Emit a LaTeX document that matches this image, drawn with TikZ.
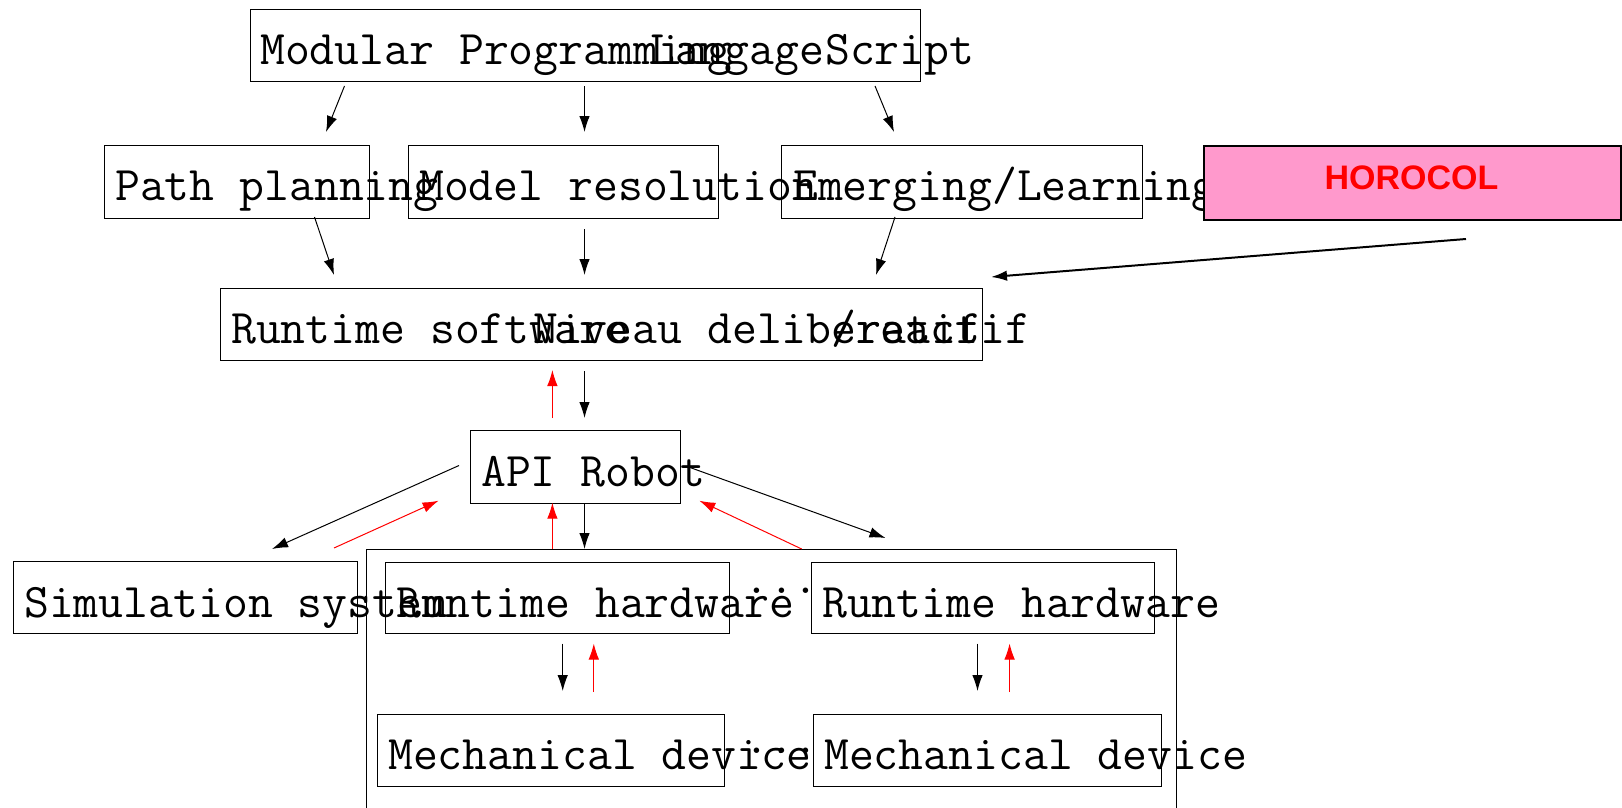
\documentclass[tikz,border=0pt]{standalone}
\usepackage{fontspec}
\newfontfamily\tagfont{Liberation Sans}
\usetikzlibrary{arrows.meta}

\definecolor{tagpink}{RGB}{255,153,204}

\tikzset{
  box/.style={draw, line width=1pt, inner sep=0pt, anchor=north west},
  lbl/.style={anchor=base west, inner sep=0pt, font=\ttfamily\fontsize{48.3}{58}\selectfont},
  fwd/.style={line width=1pt, -{Latex[length=16pt,width=10.5pt]}},
  back/.style={fwd, red},
}

\begin{document}
\begin{tikzpicture}[x=1pt,y=-1pt]
\useasboundingbox (0,0) rectangle (1622,808);

% boxes
\node[box, minimum width=670pt, minimum height=72pt] (top) at (250,9) {};
\node[box, minimum width=265pt, minimum height=73pt] (path) at (104,145) {};
\node[box, minimum width=310pt, minimum height=73pt] (model) at (408,145) {};
\node[box, minimum width=361pt, minimum height=73pt] (emerg) at (781,145) {};
\node[box, minimum width=762pt, minimum height=72pt] (runsw) at (220,288) {};
\node[box, minimum width=210pt, minimum height=73pt] (api) at (470,430) {};
\node[box, minimum width=810pt, minimum height=290pt] (group) at (366,549) {};
\node[box, minimum width=344pt, minimum height=72pt] (sim) at (12.5,561) {};
\node[box, minimum width=344pt, minimum height=71pt] (rhl) at (385,562) {};
\node[box, minimum width=343pt, minimum height=71pt] (rhr) at (811,562) {};
\node[box, minimum width=347pt, minimum height=72pt] (mdl) at (376.5,714) {};
\node[box, minimum width=348pt, minimum height=72pt] (mdr) at (813,714) {};

% labels
\node[lbl] (topA) at (260,64) {Modular Programming};
\node[lbl] (topB) at (650,64) {Langage};
\node[lbl] (topC) at (825,64) {Script};
\node[lbl] (pathT) at (115,200) {Path planning};
\node[lbl] (modelT) at (419,200) {Model resolution};
\node[lbl] (emergT) at (793,200) {Emerging/Learning};

% highlighted box
\node[draw, line width=2pt, fill=tagpink, anchor=north west, inner sep=0pt,
      minimum width=417pt, minimum height=74pt] (horo) at (1203,145) {};
\node[anchor=base, inner sep=0pt, text=red,
      font=\tagfont\bfseries\fontsize{34}{40}\selectfont] (horoT) at (1411.5,189) {HOROCOL};

\node[lbl] (runswA) at (231,343) {Runtime software};
\node[lbl] (runswB) at (533,343) {Niveau deliberatif};
\node[lbl] (runswC) at (831,343) {/reactif};
\node[lbl] (apiT) at (481,486) {API Robot};
\node[lbl] (simT) at (24,617) {Simulation system};
\node[lbl] (rhlT) at (396,617) {Runtime hardware};
\node[lbl] (rhrT) at (822,617) {Runtime hardware};
\node[lbl] (mdlT) at (388,769) {Mechanical device};
\node[lbl] (mdrT) at (824,769) {Mechanical device};
\node[lbl] (dotsA) at (744,605) {···};
\node[lbl] (dotsB) at (744,765) {···};

% connector end points
\coordinate (a1) at (344.5,86);  \coordinate (a2) at (326,132);
\coordinate (b1) at (584.5,86);  \coordinate (b2) at (584.5,132);
\coordinate (c1) at (875,86);    \coordinate (c2) at (894,132);
\coordinate (d1) at (314.5,217); \coordinate (d2) at (334,275);
\coordinate (e1) at (584.5,229); \coordinate (e2) at (584.5,275);
\coordinate (f1) at (895,217);   \coordinate (f2) at (876,275);
\coordinate (g1) at (1466,239);  \coordinate (g2) at (991,277);
\coordinate (h1) at (584.5,371); \coordinate (h2) at (584.5,418);
\coordinate (i1) at (459,465.5); \coordinate (i2) at (272,549);
\coordinate (j1) at (584.5,503); \coordinate (j2) at (584.5,549);
\coordinate (k1) at (690,467.5); \coordinate (k2) at (885.5,538);
\coordinate (l1) at (562.7,643.5); \coordinate (l2) at (562.7,691);
\coordinate (m1) at (977.5,643.5); \coordinate (m2) at (977.5,691);
\coordinate (n1) at (552.4,418); \coordinate (n2) at (552.4,370);
\coordinate (o1) at (334,548);   \coordinate (o2) at (438.6,500.7);
\coordinate (p1) at (552.4,549); \coordinate (p2) at (552.4,502.7);
\coordinate (q1) at (801.7,549); \coordinate (q2) at (699.3,500.7);
\coordinate (r1) at (593.8,692); \coordinate (r2) at (593.8,643.5);
\coordinate (s1) at (1009.6,692); \coordinate (s2) at (1009.6,643.5);

% downward flow
\draw[fwd] (a1) -- (a2);
\draw[fwd] (b1) -- (b2);
\draw[fwd] (c1) -- (c2);
\draw[fwd] (d1) -- (d2);
\draw[fwd] (e1) -- (e2);
\draw[fwd] (f1) -- (f2);
\draw[fwd, line width=2pt] (g1) -- (g2);
\draw[fwd] (h1) -- (h2);
\draw[fwd] (i1) -- (i2);
\draw[fwd] (j1) -- (j2);
\draw[fwd] (k1) -- (k2);
\draw[fwd] (l1) -- (l2);
\draw[fwd] (m1) -- (m2);

% feedback flow
\draw[back] (n1) -- (n2);
\draw[back] (o1) -- (o2);
\draw[back] (p1) -- (p2);
\draw[back] (q1) -- (q2);
\draw[back] (r1) -- (r2);
\draw[back] (s1) -- (s2);
\end{tikzpicture}
\end{document}
